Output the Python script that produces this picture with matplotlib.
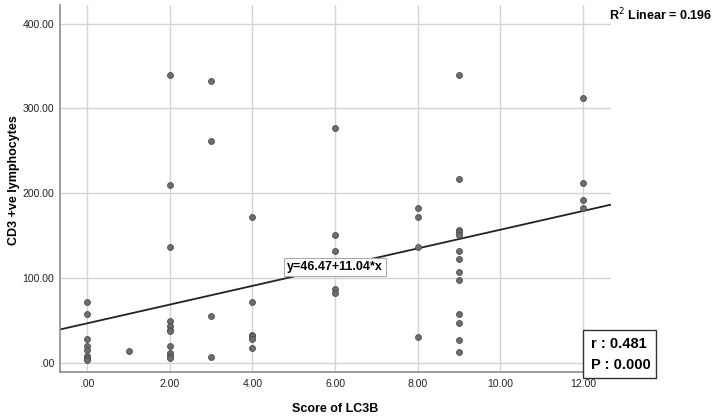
import numpy as np
import matplotlib
matplotlib.use('Agg')
import matplotlib.pyplot as plt
from matplotlib.patches import Rectangle

plt.rcParams['font.family'] = ['Liberation Sans', 'DejaVu Sans']

# score of LC3B -> CD3 +ve lymphocytes
score_0 = [72, 57, 28, 20, 15, 8, 6, 3.5]
score_1 = [14]
score_2 = [340, 210, 136, 49, 43, 39, 37, 20, 11, 8, 6]
score_3 = [332, 261, 55, 7]
score_4 = [172, 72, 33, 31, 28, 17]
score_6 = [277, 151, 132, 87, 82]
score_8 = [182, 172, 137, 30]
score_9 = [340, 217, 157, 154, 151, 132, 122, 107, 97, 57, 47, 27, 13]
score_12 = [312, 212, 192, 182]

groups = {0: score_0, 1: score_1, 2: score_2, 3: score_3, 4: score_4,
          6: score_6, 8: score_8, 9: score_9, 12: score_12}

intercept = 46.47
slope = 11.04
r2_text = 'R$^{2}$ Linear = 0.196'
stats_lines = ['r : 0.481', 'P : 0.000']

x_ticks = [0, 2, 4, 6, 8, 10, 12]
y_ticks = [0, 100, 200, 300, 400]

xs = []
ys = []
for k, vals in groups.items():
    xs += [k] * len(vals)
    ys += vals

fig = plt.figure(figsize=(7.18, 4.19), dpi=100)
ax = fig.add_axes([60 / 718, 1 - 372 / 419, 551 / 718, 367 / 419])

xmin, xmax = -0.66, 12.68
ax.set_xlim(xmin, xmax)
ax.set_ylim(-11, 422)

# grid
ax.set_xticks(x_ticks)
ax.set_yticks(y_ticks)
ax.grid(True, color='#d4d4d4', linewidth=1.0)
ax.set_axisbelow(True)
ax.set_xticklabels(['.00' if t == 0 else '%.2f' % t for t in x_ticks],
                   fontsize=7.5, color='#222222')
ax.set_yticklabels(['.00' if t == 0 else '%.2f' % t for t in y_ticks],
                   fontsize=7.5, color='#222222')
ax.tick_params(axis='y', length=0, pad=4)
ax.tick_params(axis='x', length=0, pad=5)

for side in ['top', 'right']:
    ax.spines[side].set_visible(False)
for side in ['left', 'bottom']:
    ax.spines[side].set_color('#8c8c8c')
    ax.spines[side].set_linewidth(1.2)

# fit line
line_x = np.array([xmin, xmax])
ax.plot(line_x, intercept + slope * line_x, color='#222222', linewidth=1.3, zorder=2)

ax.scatter(xs, ys, s=18, facecolor='#6e6e6e', edgecolor='#4a4a4a', linewidth=0.6, zorder=3)

ax.text(6, intercept + slope * 6, 'y=%.2f+%.2f*x' % (intercept, slope),
        ha='center', va='center', fontsize=9, fontweight='bold', zorder=4,
        bbox=dict(boxstyle='square,pad=0.25', facecolor='white', edgecolor='#aaaaaa', linewidth=0.8))

ax.set_xlabel('Score of LC3B', fontsize=9, fontweight='bold')
ax.xaxis.set_label_coords(0.5, (372 - 403) / 367)
ax.set_ylabel('CD3 +ve lymphocytes', fontsize=9, fontweight='bold')
ax.yaxis.set_label_coords((20 - 60) / 551, (372 - 180) / 367)

fig.text(712 / 718, 1 - 15 / 419, r2_text, ha='right', va='center',
         fontsize=9, fontweight='bold')

# r / P box
fig.patches.append(Rectangle((583 / 718, 1 - 378 / 419), 73 / 718, 48 / 419,
                             transform=fig.transFigure, facecolor='white',
                             edgecolor='#333333', linewidth=1.0, zorder=5))
fig.text(591 / 718, 1 - 344 / 419, stats_lines[0], ha='left', va='center',
         fontsize=10.5, fontweight='bold', zorder=6)
fig.text(591 / 718, 1 - 365 / 419, stats_lines[1], ha='left', va='center',
         fontsize=10.5, fontweight='bold', zorder=6)

fig.savefig('out.png', dpi=100)
